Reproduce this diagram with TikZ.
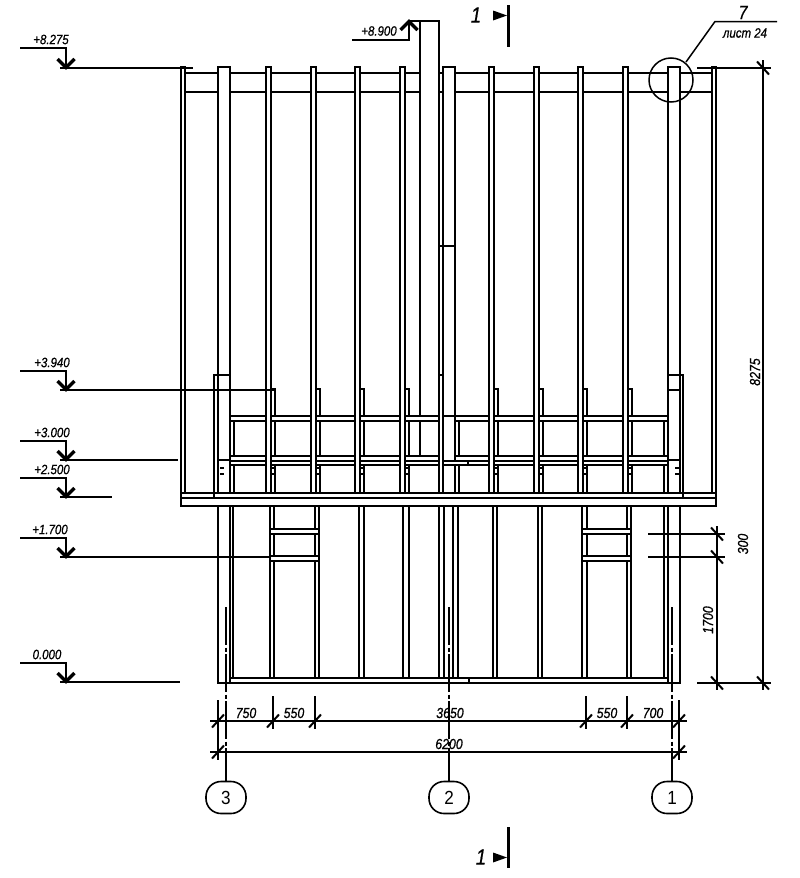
\documentclass[tikz,border=0pt]{standalone}
\usepackage{fontspec}
\setmainfont{Liberation Sans}
\newfontfamily\cadit[ItalicFont={Liberation Sans Italic},ItalicFeatures={FakeStretch=0.85,FakeBold=0.6}]{Liberation Sans}
\newfontfamily\cadup[FakeStretch=0.9]{Liberation Sans}
\tikzset{
  x=1pt,y=-1pt,
  frame/.style={draw=black,fill=white,line width=1.8pt,line join=miter},
  wire/.style={draw=black,line width=1.8pt},
  dim/.style={draw=black,line width=1.3pt},
  tick/.style={draw=black,line width=2pt},
  axisline/.style={draw=black,line width=1.8pt,dash pattern=on 38pt off 2.5pt on 4pt off 2.5pt},
  lab/.style={inner sep=0pt,font=\cadit\itshape\fontsize{14.5}{14.5}\selectfont},
  levlab/.style={inner sep=0pt,font=\cadit\itshape\fontsize{13.5}{13.5}\selectfont},
  seclab/.style={inner sep=0pt,font=\cadit\itshape\fontsize{22}{22}\selectfont},
  bubble/.style={draw=black,fill=white,line width=1.6pt,rectangle,rounded corners=15pt,minimum width=40pt,minimum height=32pt,inner sep=0pt,font=\cadup\fontsize{19}{19}\selectfont},
}
\newcommand{\wbox}[4]{\path[frame] (#1,#2) rectangle (#3,#4);}
\newcommand{\levelmark}[6]{%
  \draw[wire] (20,#1) -- (66,#1) -- (66,#2);
  \draw[line width=3.2pt,line join=miter] (57.5,#2-9) -- (66,#2-0.5) -- (74.5,#2-9);
  \draw[dim] (60,#2) -- (#3,#2);
  \node[levlab] (#6) at (#5,#1-8.5) {#4};
}
\newcommand{\slashA}[2]{\draw[tick] (#1-6,#2+6.5) -- (#1+6,#2-6.5);}
\newcommand{\slashB}[2]{\draw[tick] (#1-6,#2-6.5) -- (#1+6,#2+6.5);}
\begin{document}
\begin{tikzpicture}
\useasboundingbox (0,0) rectangle (800,878);
\fill[white] (0,0) rectangle (800,878);

% ---- top roof beam
\wbox{185}{73}{712}{92}

% ---- short studs (upper storey)
\foreach \a in {271,316,360,405,494,539,583,628}
  {\wbox{\a}{389}{\a+4}{493}}
% inner stubs
\foreach \a in {230,455,664}
  {\wbox{\a}{421}{\a+4}{493}}

% ---- centre tall column (behind the rails)
\wbox{420}{21}{439}{456}

% ---- rails
\wbox{230}{416}{439}{421}
\wbox{455}{416}{668}{421}
\wbox{230}{456}{439}{461}
\wbox{230}{461}{439}{465}
\wbox{455}{456}{668}{461}
\wbox{443}{461}{668}{465}
\draw[wire] (468,461) -- (468,465);

% ---- long studs
\foreach \a in {266,311,355,400,489,534,578,623}
  {\wbox{\a}{67}{\a+5}{493}}
% edge posts
\wbox{181}{67}{185}{493}
\wbox{712}{67}{716}{493}

% ---- columns at axes (upper part)
\wbox{214}{375}{218}{493}
\wbox{218}{67}{230}{493}
\draw[wire] (214,375) -- (230,375);
\draw[wire] (218,460) -- (230,460);
\wbox{668}{67}{680}{493}
\wbox{680}{375}{683}{493}
\draw[wire] (668,375) -- (683,375);
\draw[wire] (668,390) -- (680,390);
\draw[wire] (668,460) -- (680,460);
\wbox{443}{67}{455}{416}
\draw[wire] (439,416) -- (439,493) (443,416) -- (443,493);
\draw[wire] (439,375) -- (443,375);
\draw[wire] (440,246) -- (455,246);

% clip marks near the floor beam
\foreach \a in {220,272,316,361,406,495,539,584,629,675}
 {\draw[line width=1.8pt] (\a,468) -- (\a+3.5,468) (\a,474) -- (\a+3.5,474);}

% ---- lower storey
\foreach \a/\b in {270/274,315/319,359/364,403/409,439/444,453/458,493/497,538/542,582/587,627/631,664/668,230/233}
  {\wbox{\a}{506}{\b}{678}}
\draw[wire] (218,506) -- (218,683) -- (680,683) -- (680,506);
\draw[wire] (230,678) -- (668,678);
\draw[wire] (469,678) -- (469,683);
\draw[wire] (668,506) -- (668,683);
\draw[wire] (230,678) -- (230,683);
% ladders
\foreach \a/\b in {270/319,582/631}{
  \wbox{\a}{529}{\b}{534}
  \wbox{\a}{556}{\b}{561}
}

% ---- floor beam
\wbox{181}{493}{716}{506}
\draw[wire] (181,498) -- (716,498);
\draw[wire] (214,493) -- (214,498) (683,493) -- (683,498);

% ---- levels
\levelmark{48}{68}{193}{+8.275}{51}{lvA}
\levelmark{371}{390}{274}{+3.940}{52}{lvB}
\levelmark{441}{460}{178}{+3.000}{52}{lvC}
\levelmark{478}{497}{112}{+2.500}{52}{lvD}
\levelmark{538}{557}{270}{+1.700}{50}{lvE}
\levelmark{663}{682}{180}{0.000}{47}{lvF}

% +8.900 mark
\draw[wire] (352,40) -- (409,40) -- (409,21) -- (420,21);
\draw[line width=3.2pt,line join=miter] (400.5,30) -- (409,21.5) -- (417.5,30);
\node[levlab] (lvG) at (379,31) {+8.900};

% ---- callout
\draw[line width=1.5pt] (671,80) circle (22pt);
\draw[line width=1.5pt] (686,62) -- (715,21.5) -- (777,21.5);
\node[inner sep=0pt,font=\cadit\itshape\fontsize{19}{19}\selectfont] (callnum) at (743,12.5) {7};
\node[levlab] (callsheet) at (745,33) {лист 24};

% ---- right-hand dimensions
\draw[dim] (697,68) -- (771,68);
\draw[dim] (697,683) -- (771,683);
\draw[dim] (648,534) -- (725,534);
\draw[dim] (648,557) -- (725,557);
\draw[line width=1.6pt] (763,60) -- (763,690);
\draw[dim] (717,526) -- (717,690);
\slashB{763}{68}
\slashB{763}{683}
\slashB{717}{534}
\slashB{717}{557}
\slashB{717}{683}
\node[lab,rotate=90] (dimA) at (755,372) {8275};
\node[lab,rotate=90] (dimB) at (743,544) {300};
\node[lab,rotate=90] (dimC) at (708,620) {1700};

% ---- axes
\foreach \a in {226,449,672}{
  \draw[axisline] (\a,607) -- (\a,770);
  \draw[line width=1.8pt] (\a,770) -- (\a,782);
}
\node[bubble] (bub3) at (226,797.5) {3};
\node[bubble] (bub2) at (449,797.5) {2};
\node[bubble] (bub1) at (672,797.5) {1};

% ---- bottom dimensions
\draw[dim] (210,721) -- (687,721);
\draw[line width=1.7pt] (210,752) -- (687,752);
\foreach \a in {218,679}{\draw[dim] (\a,700) -- (\a,760);}
\foreach \a in {273,315,586,627}{\draw[dim] (\a,696) -- (\a,729);}
\foreach \a in {218,273,315,586,627,679}{\slashA{\a}{721}}
\slashA{218}{752}
\slashA{679}{752}
\node[lab] (d750) at (246,713) {750};
\node[lab] (d550a) at (294,713) {550};
\node[lab] (d3650) at (450,713) {3650};
\node[lab] (d550b) at (607,713) {550};
\node[lab] (d700) at (653,713) {700};
\node[lab] (d6200) at (449,744) {6200};

% ---- section marks
\node[seclab] (secT) at (476,15) {1};
\fill (493,10.5) -- (507,15.5) -- (493,20.5) -- cycle;
\draw[line width=2.8pt] (508.5,5) -- (508.5,47);
\node[seclab] (secB) at (481,857) {1};
\fill (493,852.5) -- (507,857.5) -- (493,862.5) -- cycle;
\draw[line width=2.8pt] (508.7,827) -- (508.7,868);
\end{tikzpicture}
\end{document}
